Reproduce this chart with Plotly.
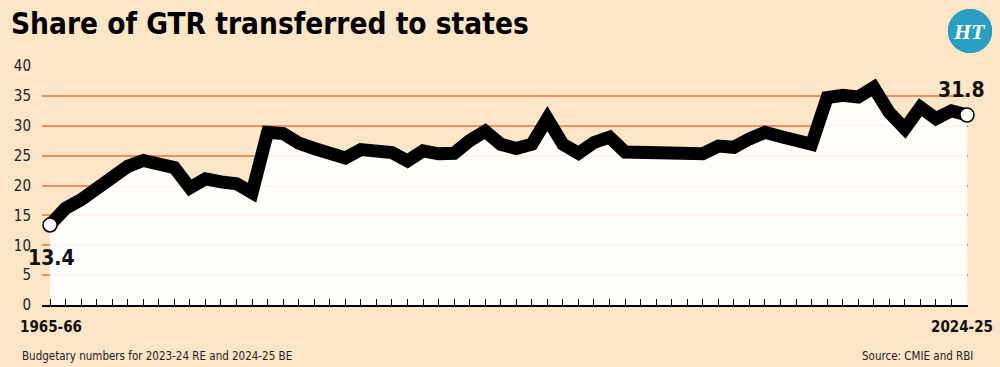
import plotly.graph_objects as go

# ---- data ----
start_year = 1965
years = [f"{y}-{str(y + 1)[-2:]}" for y in range(start_year, start_year + 60)]
share = [
    13.4, 16.2, 17.6, 19.3, 21.6, 23.2, 24.2, 23.4, 23.0, 19.6,
    21.1, 20.6, 20.3, 18.8, 28.9, 28.7, 27.1, 26.2, 25.3, 24.6,
    26.0, 25.8, 25.5, 24.1, 25.8, 25.3, 25.4, 27.5, 29.1, 26.9,
    26.2, 26.9, 31.2, 26.9, 25.4, 27.2, 28.1, 25.6, 25.5, 25.4,
    25.4, 25.1, 25.3, 26.6, 26.4, 27.8, 28.9, 28.2, 27.8, 26.9,
    34.7, 35.1, 34.8, 36.4, 32.2, 29.5, 33.1, 31.2, 32.5, 31.8,
]
y_ticks = [0, 5, 10, 15, 20, 25, 30, 35, 40]

BG = "#FDE5C7"
GRID = "#EC9063"
xs = list(range(len(share)))
first, last = 0, len(share) - 1

fig = go.Figure()
fig.add_trace(go.Scatter(
    x=xs, y=share, mode="lines",
    line=dict(color="#000000", width=13),
    fill="tozeroy", fillcolor="rgba(255,255,255,0.9)",
    hoverinfo="skip", showlegend=False,
))
fig.add_trace(go.Scatter(
    x=[xs[first], xs[last]], y=[share[first], share[last]], mode="markers",
    marker=dict(size=14, color="white", line=dict(color="black", width=1.5)),
    cliponaxis=False, showlegend=False, hoverinfo="skip",
))

# drop lines at first and last points
for i in (first, last):
    fig.add_shape(type="line", xref="x", yref="y", x0=xs[i], x1=xs[i],
                  y0=share[i], y1=0, line=dict(color="black", width=1.5), layer="below")
    fig.add_shape(type="line", xref="x", yref="paper", x0=xs[i], x1=xs[i],
                  y0=0, y1=-0.03, line=dict(color="black", width=1.5))

FONT = "DejaVu Sans Condensed, Roboto, sans-serif"

fig.update_layout(
    width=1000, height=367,
    margin=dict(l=42, r=32, t=66, b=62),
    paper_bgcolor=BG, plot_bgcolor=BG,
    font=dict(family=FONT, color="#1a1a1a"),
    xaxis=dict(
        range=[-0.515, 59.064], tickmode="array", tickvals=xs, ticktext=[""] * len(xs),
        ticks="inside", ticklen=6, tickwidth=1.3, tickcolor="black",
        showline=True, linecolor="black", linewidth=1.5,
        showgrid=False, zeroline=False, automargin=False,
    ),
    yaxis=dict(
        range=[0, 40], tickmode="array", tickvals=y_ticks,
        showgrid=True, gridcolor=GRID, gridwidth=1.5,
        zeroline=False, showline=False, ticks="", automargin=False,
        tickfont=dict(size=15, family=FONT, color="#222"),
        ticklabelstandoff=10,
    ),
    annotations=[
        dict(text="<b>Share of GTR transferred to states</b>", xref="paper", yref="paper",
             x=-42 / 926 + 9 / 926, y=1 + 42 / 239, xanchor="left", yanchor="middle",
             showarrow=False, font=dict(size=29.5, family=FONT, color="#000")),
        dict(text=f"<b>{years[first]}</b>", x=xs[first], y=0, xref="x", yref="y",
             yshift=-22, xshift=1, showarrow=False, font=dict(size=15, family=FONT, color="#111")),
        dict(text=f"<b>{years[last]}</b>", x=xs[last], y=0, xref="x", yref="y",
             yshift=-22, xshift=-5, showarrow=False, font=dict(size=15, family=FONT, color="#111")),
        dict(text=f"<b>{share[first]}</b>", x=xs[first], y=share[first], xref="x", yref="y",
             yshift=-33, xshift=1, showarrow=False, font=dict(size=21, family=FONT, color="#111")),
        dict(text=f"<b>{share[last]}</b>", x=xs[last], y=share[last], xref="x", yref="y",
             yshift=25, xshift=-6, showarrow=False, font=dict(size=21, family=FONT, color="#111")),
        dict(text="Budgetary numbers for 2023-24 RE and 2024-25 BE", xref="paper", yref="paper",
             x=-22 / 926, y=-51 / 239, xanchor="left", yanchor="middle", showarrow=False,
             font=dict(size=11.5, family=FONT, color="#222")),
        dict(text="Source: CMIE and RBI", xref="paper", yref="paper",
             x=1 + 7 / 926, y=-51 / 239, xanchor="right", yanchor="middle", showarrow=False,
             font=dict(size=11.5, family=FONT, color="#222")),
        dict(text="<i><b>HT</b></i>", xref="paper", yref="paper",
             x=(970 - 42) / 926, y=1 + (66 - 31) / 239, xanchor="center", yanchor="middle",
             showarrow=False, font=dict(size=22, family="Liberation Serif", color="white")),
    ],
    shapes=[
        dict(type="circle", xref="paper", yref="paper",
             x0=(948 - 42) / 926, x1=(992 - 42) / 926,
             y0=1 + (66 - 53) / 239, y1=1 + (66 - 9) / 239,
             fillcolor="#2A9FC2", line=dict(width=0)),
    ],
)

fig.write_html("out.html", config={"displayModeBar": False},
               post_script="document.body.style.margin='0';")
